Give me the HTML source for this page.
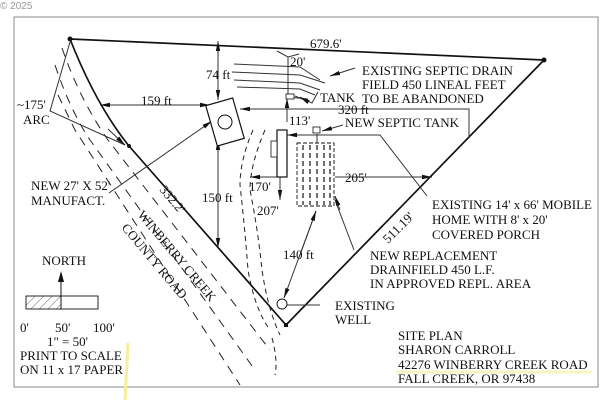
<!DOCTYPE html>
<html><head><meta charset="utf-8"><style>
html,body{margin:0;padding:0;background:#fff;width:600px;height:402px;overflow:hidden}
text{font-family:"Liberation Serif",serif;font-size:13px;fill:#111}
</style></head><body>
<svg width="600" height="402" viewBox="0 0 600 402" xmlns="http://www.w3.org/2000/svg">
<defs>
<marker id="a" markerWidth="10" markerHeight="6" refX="10" refY="3" orient="auto" markerUnits="userSpaceOnUse"><path d="M0,0.8 L10,3 L0,5.2z" fill="#111"/></marker>
<pattern id="h" width="6" height="6" patternUnits="userSpaceOnUse" patternTransform="rotate(45)"><line x1="0" y1="0" x2="0" y2="6" stroke="#333" stroke-width="0.8"/></pattern>
</defs>
<text x="0" y="9" style="font-size:10px;fill:#999;font-family:'Liberation Sans',sans-serif">© 2025</text>
<rect x="14" y="17" width="584" height="370" fill="none" stroke="#888" stroke-width="1"/>
<g stroke="#111" stroke-width="1.7" fill="none">
<path d="M70,39 L544,60 L286,325 L129,146 Q96,105 70,39"/>
</g>
<circle cx="70" cy="39" r="2.5" fill="#111"/><circle cx="544" cy="60" r="2.5" fill="#111"/><circle cx="129" cy="146" r="2" fill="#111"/><rect x="284" y="323" width="4" height="4" fill="#111"/>
<g stroke="#222" stroke-width="1" fill="none" stroke-dasharray="9,7">
<path d="M62,48 Q80,100 108,140 L270,350"/>
<path d="M55,65 Q70,110 90,140 L255,370"/>
<path d="M58,95 L75,130 L240,385"/>
</g>
<g stroke="#222" stroke-width="1" fill="none" stroke-dasharray="5,4">
<path d="M253,130 Q240,160 240,185 Q245,230 248,270 Q255,310 270,330"/>
<path d="M265,130 Q250,165 250,190 Q258,230 262,270 Q268,310 280,335"/>
<path d="M272,338 Q278,360 275,375"/>
</g>
<g stroke="#333" stroke-width="1" fill="none">
<path d="M70,42 L50,111 L125,145" /><path d="M108,129 L125,145" marker-end="url(#a)"/>
<path d="M109,193 L212,121" marker-end="url(#a)"/>
<path d="M100,105 L210,105" marker-end="url(#a)"/><path d="M200,105 L100,105" marker-end="url(#a)"/>
<path d="M218,50 L218,100" marker-end="url(#a)"/><path d="M218,60 L218,41" marker-end="url(#a)"/>
<path d="M218,150 L218,248" marker-end="url(#a)"/><path d="M218,200 L218,140" marker-end="url(#a)"/>
<path d="M240,109 L469,109 L469,137"/><path d="M300,109 L240,109" marker-end="url(#a)"/>
<path d="M287,122 L287,98" marker-end="url(#a)"/>
<path d="M280,177 L280,200" marker-end="url(#a)"/>
<path d="M277,177 L250,177" marker-end="url(#a)"/>
<path d="M335,177 L420,177"/><path d="M400,177 L432,177" marker-end="url(#a)"/>
<path d="M287,135 L380,135 L427,196"/><path d="M300,135 L287,135" marker-end="url(#a)"/>
<path d="M343,125 L322,131" marker-end="url(#a)"/>
<path d="M317,134 L317,143"/>
<path d="M234,64 L300,67 L320,80"/><path d="M232,72 L300,75 L325,83"/><path d="M234,80 L300,83 L320,90"/><path d="M237,87 L300,89 L315,95"/>
<path d="M277,51 L288,57 L299,54"/><path d="M288,57 L288,97 L308,99"/>
<path d="M355,68 L330,76" marker-end="url(#a)"/>
<path d="M318,92 L312,103 L295,96" /><path d="M305,100 L300,97" marker-end="url(#a)"/>
<path d="M316,211 L284,298" marker-end="url(#a)"/><path d="M300,255 L316,211" marker-end="url(#a)"/>
<path d="M354,250 L335,200"/><path d="M340,210 L335,196" marker-end="url(#a)"/>
<path d="M287,305 L305,305"/><path d="M305,305 L320,305"/>
</g>
<rect x="286" y="94" width="8" height="5" fill="#fff" stroke="#111" stroke-width="0.8"/>
<rect x="313" y="127" width="7" height="6" fill="#fff" stroke="#111" stroke-width="0.8"/>
<g transform="rotate(-16 225 122)"><rect x="211" y="101" width="28" height="42" fill="#fff" stroke="#111" stroke-width="1.2"/><circle cx="225" cy="122" r="7" fill="none" stroke="#111"/></g>
<rect x="277" y="130" width="10" height="47" fill="#fff" stroke="#111" stroke-width="1.2"/>
<rect x="271" y="141" width="6" height="16" fill="#fff" stroke="#111" stroke-width="0.8"/>
<rect x="297" y="143" width="37" height="63" fill="none" stroke="#111" stroke-width="0.9" stroke-dasharray="4,2"/>
<g stroke="#111" stroke-width="1.2" stroke-dasharray="5,3"><line x1="303" y1="145" x2="303" y2="205"/><line x1="310" y1="145" x2="310" y2="205"/><line x1="317" y1="145" x2="317" y2="205"/><line x1="324" y1="145" x2="324" y2="205"/><line x1="330" y1="145" x2="330" y2="205"/></g>
<circle cx="282" cy="304" r="5" fill="#fff" stroke="#111" stroke-width="0.9"/>
<path d="M61,278 L61,296" stroke="#111" stroke-width="1" fill="none"/><path d="M61,271 L58,282 L64,282z" fill="#111"/>
<rect x="26" y="296" width="35" height="13" fill="url(#h)" stroke="#111" stroke-width="0.9"/>
<rect x="61" y="296" width="37" height="13" fill="none" stroke="#111" stroke-width="0.9"/>
<text x="310" y="48">679.6'</text>
<text x="290" y="66">20'</text>
<text x="206" y="79">74 ft</text>
<text x="362" y="75">EXISTING SEPTIC DRAIN</text>
<text x="362" y="89">FIELD 450 LINEAL FEET</text>
<text x="362" y="103">TO BE ABANDONED</text>
<text x="320" y="102">TANK</text>
<text x="338" y="114">320 ft</text>
<text x="289" y="125">113'</text>
<text x="345" y="127">NEW SEPTIC TANK</text>
<text x="141" y="105">159 ft</text>
<text x="17" y="109">~175'</text>
<text x="23" y="124">ARC</text>
<text x="31" y="190">NEW 27' X 52'</text>
<text x="31" y="205">MANUFACT.</text>
<text x="202" y="202">150 ft</text>
<text x="249" y="191">170'</text>
<text x="257" y="215">207'</text>
<text x="345" y="182">205'</text>
<text x="432" y="209">EXISTING 14' x 66' MOBILE</text>
<text x="432" y="224">HOME WITH 8' x 20'</text>
<text x="432" y="239">COVERED PORCH</text>
<text x="283" y="259">140 ft</text>
<text x="370" y="260">NEW REPLACEMENT</text>
<text x="370" y="274">DRAINFIELD 450 L.F.</text>
<text x="370" y="288">IN APPROVED REPL. AREA</text>
<text x="335" y="310">EXISTING</text>
<text x="335" y="324">WELL</text>
<text x="398" y="340">SITE PLAN</text>
<text x="398" y="354">SHARON CARROLL</text>
<text x="398" y="369">42276 WINBERRY CREEK ROAD</text>
<text x="398" y="383">FALL CREEK, OR 97438</text>
<text transform="translate(159,190) rotate(50)">332.2'</text>
<text transform="translate(137,215) rotate(50)">WINBERRY CREEK</text>
<text transform="translate(121,228) rotate(50)">COUNTY ROAD</text>
<text transform="translate(388,244) rotate(-45)">511.19'</text>
<text x="42" y="265">NORTH</text>
<text x="20" y="332">0'</text><text x="55" y="332">50'</text><text x="93" y="332">100'</text>
<text x="47" y="346">1" = 50'</text>
<text x="20" y="360">PRINT TO SCALE</text>
<text x="20" y="374">ON 11 x 17 PAPER</text>
<path d="M128,343 L125,400" stroke="#f3ef9a" stroke-width="3" fill="none"/>
<path d="M396,372 L592,372" stroke="#f3ef9a" stroke-width="3" fill="none" opacity="0.6"/>
</svg>
</body></html>
